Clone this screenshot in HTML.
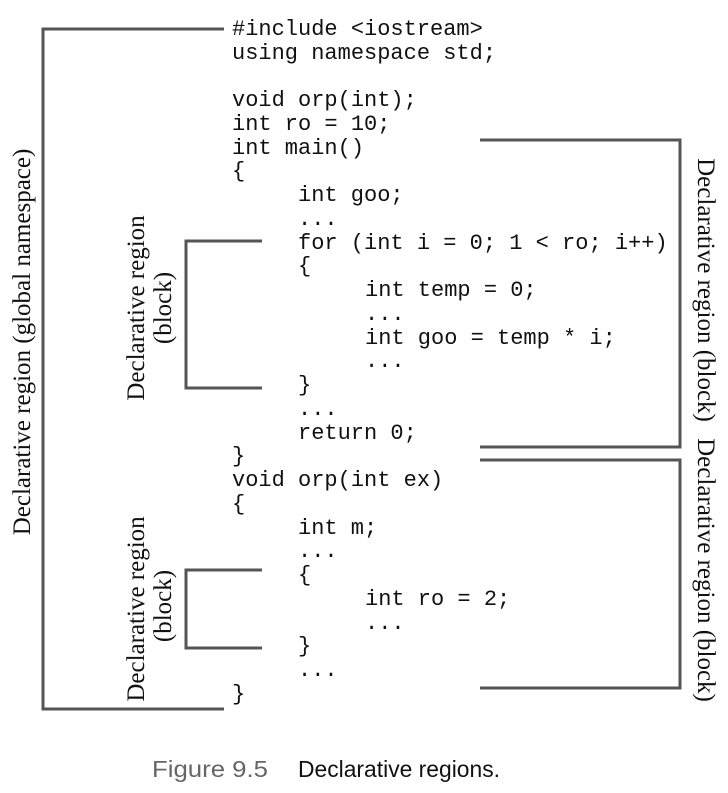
<!DOCTYPE html>
<html><head><style>body{margin:0;background:#fff}</style></head><body>
<svg width="728" height="788" xmlns="http://www.w3.org/2000/svg">
<g fill="none" stroke="#555" stroke-width="3">
<polyline points="224,29 43,29 43,709 224,709"/>
<polyline points="480,140 680,140 680,447 480,447"/>
<polyline points="480,460 680,460 680,688 480,688"/>
<polyline points="262,241 186,241 186,388 262,388"/>
<polyline points="262,570 186,570 186,648 262,648"/>
</g>
<g font-family="Liberation Mono, monospace" font-size="22" fill="#111" xml:space="preserve">
<text x="232" y="35">#include &lt;iostream&gt;</text>
<text x="232" y="59">using namespace std;</text>
<text x="232" y="106">void orp(int);</text>
<text x="232" y="130">int ro = 10;</text>
<text x="232" y="154">int main()</text>
<text x="232" y="177">{</text>
<text x="298" y="201">int goo;</text>
<text x="298" y="225">...</text>
<text x="298" y="249">for (int i = 0; 1 &lt; ro; i++)</text>
<text x="298" y="272">{</text>
<text x="365" y="296">int temp = 0;</text>
<text x="365" y="320">...</text>
<text x="365" y="344">int goo = temp * i;</text>
<text x="365" y="367">...</text>
<text x="298" y="391">}</text>
<text x="298" y="415">...</text>
<text x="298" y="439">return 0;</text>
<text x="232" y="462">}</text>
<text x="232" y="486">void orp(int ex)</text>
<text x="232" y="510">{</text>
<text x="298" y="534">int m;</text>
<text x="298" y="557">...</text>
<text x="298" y="581">{</text>
<text x="365" y="605">int ro = 2;</text>
<text x="365" y="629">...</text>
<text x="298" y="652">}</text>
<text x="298" y="676">...</text>
<text x="232" y="700">}</text>
</g>
<g font-family="Liberation Serif, serif" font-size="25" fill="#111" text-anchor="middle">
<text transform="translate(30,342) rotate(-90)">Declarative region (global namespace)</text>
<text transform="translate(698,290) rotate(90)">Declarative region (block)</text>
<text transform="translate(698,570) rotate(90)">Declarative region (block)</text>
<text transform="translate(144,308) rotate(-90)">Declarative region</text>
<text transform="translate(171,308) rotate(-90)">(block)</text>
<text transform="translate(144,609) rotate(-90)">Declarative region</text>
<text transform="translate(171,606) rotate(-90)">(block)</text>
</g>
<g font-family="Liberation Sans, sans-serif" font-size="23">
<text x="152" y="777" fill="#666" textLength="116" lengthAdjust="spacingAndGlyphs">Figure 9.5</text>
<text x="298" y="777" fill="#111" textLength="202" lengthAdjust="spacingAndGlyphs">Declarative regions.</text>
</g>
</svg>
</body></html>
